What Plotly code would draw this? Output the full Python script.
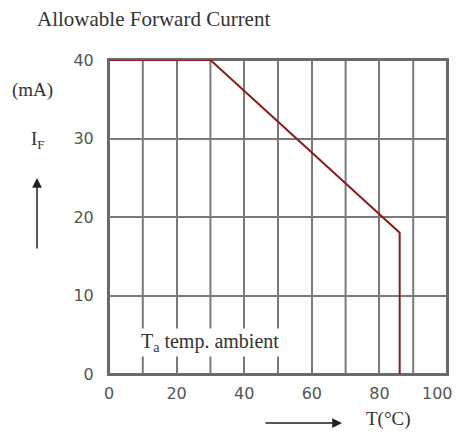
import plotly.graph_objects as go

# Data
temp_c = [0, 30, 86, 86]
current_ma = [40, 40, 18, 0]
x_tick_vals = [0, 20, 40, 60, 80, 100]
y_tick_vals = [0, 10, 20, 30, 40]

W, H = 458, 434
L, R, T, B = 109, 11, 60, 60
pw, ph = W - L - R, H - T - B

def px(xp):
    return (xp - L) / pw

def py(yp):
    return (H - B - yp) / ph

fig = go.Figure()
fig.add_trace(go.Scatter(x=temp_c, y=current_ma, mode="lines",
                         line=dict(color="#8b1c1c", width=2), hoverinfo="skip",
                         showlegend=False, cliponaxis=False))

tickfont = dict(family="DejaVu Sans", size=16, color="#555555")
fig.update_xaxes(range=[0, 100], tickvals=x_tick_vals,
                 ticktext=[str(v) for v in x_tick_vals[:-1]] + [""],
                 showgrid=True, gridcolor="#7a7a7a", gridwidth=2,
                 showline=True, mirror=True, linecolor="#6a6a6a", linewidth=2,
                 zeroline=False, tickfont=tickfont, ticks="", automargin=False,
                 ticklabelstandoff=4, fixedrange=True)
fig.update_yaxes(range=[0, 40], tickvals=y_tick_vals,
                 showgrid=True, gridcolor="#7a7a7a", gridwidth=2,
                 showline=True, mirror=True, linecolor="#6a6a6a", linewidth=2,
                 zeroline=False, tickfont=tickfont, ticks="", automargin=False,
                 ticklabelstandoff=10, fixedrange=True)

# vertical grid every 10 and frame
for v in [10, 30, 50, 70, 90]:
    fig.add_shape(type="line", xref="x", yref="paper", x0=v, x1=v, y0=0, y1=1,
                  line=dict(color="#7a7a7a", width=2), layer="below")
fig.add_shape(type="rect", xref="paper", yref="paper", x0=0, x1=1, y0=0, y1=1,
              line=dict(color="#6a6a6a", width=2), layer="below")

# last x tick label, nudged left as in the reference
fig.add_annotation(xref="x", yref="paper", x=x_tick_vals[-1], y=0, yanchor="top",
                   xshift=-10, yshift=-8, text=str(x_tick_vals[-1]), showarrow=False,
                   font=tickfont)

serif = "Liberation Serif"
txt = "#333333"
anns = [
    dict(text="Allowable Forward Current", x=px(35), y=py(19), xanchor="left",
         yanchor="middle", font=dict(family=serif, size=21, color=txt)),
    dict(text="(mA)", x=px(10), y=py(90), xanchor="left", yanchor="middle",
         font=dict(family=serif, size=19, color=txt)),
    dict(text="I<sub>F</sub>", x=px(38), y=py(140), xanchor="center", yanchor="middle",
         font=dict(family=serif, size=19, color=txt)),
    dict(text="T<sub>a</sub> temp. ambient", x=px(139), y=py(342), xanchor="left",
         yanchor="middle", bgcolor="white",
         font=dict(family=serif, size=20, color=txt)),
    dict(text="T(°C)", x=px(364), y=py(419), xanchor="left", yanchor="middle",
         font=dict(family=serif, size=19, color=txt)),
]
for a in anns:
    fig.add_annotation(xref="paper", yref="paper", showarrow=False, **a)

# arrows
fig.add_annotation(xref="paper", yref="paper", x=px(37), y=py(178), ax=0, ay=72,
                   text="", showarrow=True, arrowhead=2, arrowsize=1.3,
                   arrowwidth=1.5, arrowcolor="#222222")
fig.add_annotation(xref="paper", yref="paper", x=px(342), y=py(423), ax=-78, ay=0,
                   text="", showarrow=True, arrowhead=2, arrowsize=1.3,
                   arrowwidth=1.5, arrowcolor="#222222")

fig.update_layout(width=W, height=H, margin=dict(l=L, r=R, t=T, b=B),
                  plot_bgcolor="white", paper_bgcolor="white")

fig.write_html("out.html", config={"displayModeBar": False},
               post_script="document.body.style.margin='0';document.body.style.overflow='hidden';")
